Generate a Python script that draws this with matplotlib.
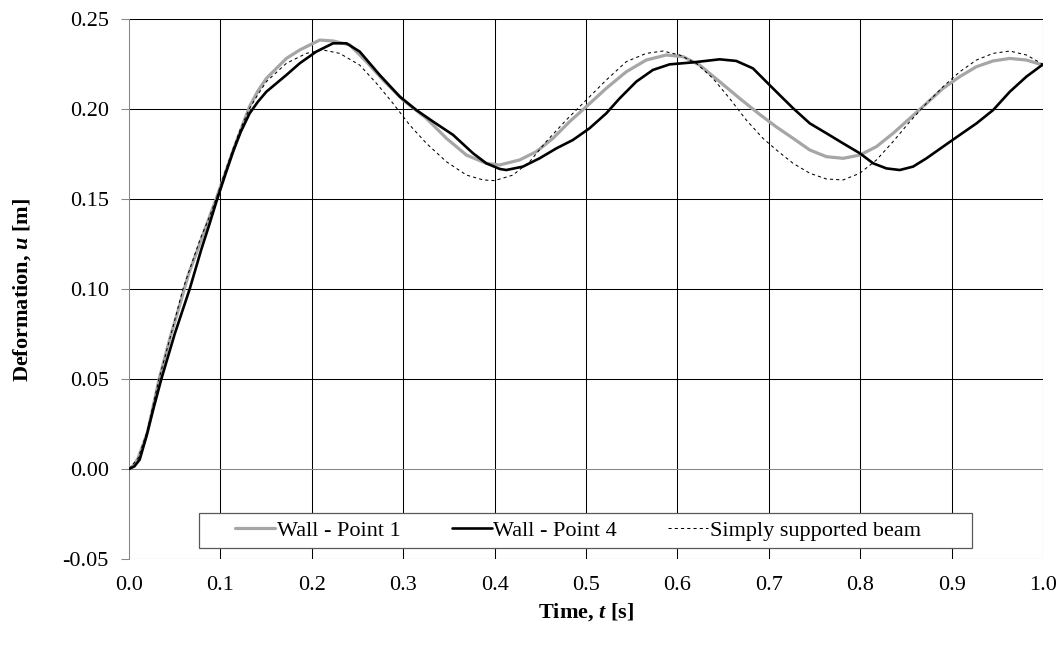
import matplotlib
matplotlib.use("Agg")
import matplotlib.pyplot as plt
from matplotlib.patches import Rectangle

plt.rcParams.update({
    'font.family': 'Liberation Serif',
    'font.size': 16,
    'mathtext.fontset': 'custom',
    'mathtext.rm': 'Liberation Serif',
    'mathtext.it': 'Liberation Serif:italic',
    'mathtext.bf': 'Liberation Serif:bold',
    'mathtext.bfit': 'Liberation Serif:italic:bold',
    'lines.solid_joinstyle': 'round',
    'lines.solid_capstyle': 'round',
})

# Wall - Point 1
t_p1 = [0, 0.005, 0.01, 0.02, 0.033, 0.045, 0.054, 0.065, 0.078, 0.088, 0.096, 0.105,
        0.1139, 0.122, 0.132, 0.141, 0.1503, 0.1722, 0.1868, 0.2087, 0.2233, 0.2415, 0.2597,
        0.278, 0.2999, 0.3254, 0.3473, 0.3692, 0.391, 0.4055, 0.4274, 0.4456, 0.4638, 0.4821,
        0.5003, 0.5222, 0.5441, 0.5659, 0.5878, 0.6061, 0.6243, 0.6462, 0.6681, 0.69, 0.7084,
        0.7266, 0.7449, 0.7631, 0.7813, 0.7996, 0.8178, 0.836, 0.8543, 0.8725, 0.8907, 0.909,
        0.9272, 0.9454, 0.9637, 0.9819, 1.0]
u_p1 = [0, 0.002, 0.006, 0.02, 0.05, 0.073, 0.0885, 0.108, 0.126, 0.14, 0.151, 0.164,
        0.177, 0.188, 0.2015, 0.21, 0.217, 0.2281, 0.2328, 0.2383, 0.2378, 0.2356, 0.2263,
        0.2161, 0.205, 0.1948, 0.1837, 0.1744, 0.1698, 0.1689, 0.1717, 0.1763, 0.1837, 0.193,
        0.2013, 0.2115, 0.2207, 0.2272, 0.23, 0.2291, 0.2244, 0.2152, 0.2059, 0.197, 0.190,
        0.1837, 0.1772, 0.1735, 0.1726, 0.1744, 0.1791, 0.1865, 0.1948, 0.2031, 0.2115, 0.218,
        0.2235, 0.2267, 0.2281, 0.2272, 0.2244]

# Wall - Point 4
t_p4 = [0, 0.006, 0.0117, 0.019, 0.027, 0.0354, 0.05, 0.0664, 0.079, 0.088, 0.0956, 0.105,
        0.1139, 0.122, 0.132, 0.141, 0.1503, 0.1722, 0.1868, 0.205, 0.2233, 0.2379, 0.2524,
        0.2743, 0.2962, 0.3144, 0.3327, 0.3546, 0.3764, 0.391, 0.4056, 0.4128, 0.431, 0.4492,
        0.4675, 0.4857, 0.5039, 0.5222, 0.5368, 0.555, 0.5732, 0.5915, 0.617, 0.6462, 0.6644,
        0.6826, 0.7009, 0.7118, 0.7266, 0.7449, 0.7631, 0.7813, 0.7996, 0.8142, 0.8287, 0.8433,
        0.8579, 0.8725, 0.8907, 0.909, 0.9272, 0.9454, 0.9637, 0.9819, 1.0]
u_p4 = [0, 0.0015, 0.0052, 0.018, 0.034, 0.05, 0.075, 0.10, 0.1218, 0.136, 0.1485, 0.163,
        0.1763, 0.187, 0.1976, 0.204, 0.2096, 0.2189, 0.2254, 0.2319, 0.2365, 0.2365, 0.2319,
        0.2189, 0.2069, 0.1994, 0.193, 0.1856, 0.1754, 0.1698, 0.1667, 0.1661, 0.168, 0.1726,
        0.1781, 0.1828, 0.1893, 0.1976, 0.2059, 0.2152, 0.2217, 0.2248, 0.2259, 0.2276, 0.2267,
        0.2226, 0.2133, 0.2078, 0.2004, 0.192, 0.1865, 0.1809, 0.1754, 0.1698, 0.167, 0.1661,
        0.168, 0.1726, 0.1791, 0.1856, 0.192, 0.1994, 0.2096, 0.218, 0.2248]

# Simply supported beam
t_ss = [0, 0.01, 0.02, 0.0328, 0.045, 0.059, 0.078, 0.088, 0.096, 0.105, 0.1139, 0.122,
        0.132, 0.141, 0.1503, 0.1722, 0.1941, 0.2123, 0.2306, 0.2524, 0.2707, 0.2889, 0.3071,
        0.3254, 0.3473, 0.3692, 0.3874, 0.4, 0.4201, 0.4383, 0.4565, 0.4784, 0.5003, 0.5222,
        0.5441, 0.5659, 0.5842, 0.6024, 0.6207, 0.6389, 0.6571, 0.6753, 0.6936, 0.7084, 0.7266,
        0.7449, 0.7631, 0.7813, 0.7996, 0.8178, 0.836, 0.8543, 0.8725, 0.8907, 0.909, 0.9272,
        0.9454, 0.9637, 0.9819, 1.0]
u_ss = [0, 0.006, 0.021, 0.05, 0.073, 0.10, 0.128, 0.14, 0.151, 0.165, 0.178, 0.189,
        0.2004, 0.208, 0.2152, 0.2254, 0.2309, 0.2328, 0.2309, 0.2244, 0.2143, 0.2031, 0.1911,
        0.1809, 0.1707, 0.1633, 0.1606, 0.1602, 0.1633, 0.1707, 0.1819, 0.1939, 0.205, 0.2161,
        0.2263, 0.2309, 0.2322, 0.23, 0.2254, 0.217, 0.2059, 0.1939, 0.1837, 0.1772, 0.1698,
        0.1643, 0.1611, 0.1606, 0.1643, 0.1717, 0.1819, 0.193, 0.2031, 0.2124, 0.2207, 0.2272,
        0.2309, 0.2322, 0.23, 0.2248]

x_ticks = [0.0, 0.1, 0.2, 0.3, 0.4, 0.5, 0.6, 0.7, 0.8, 0.9, 1.0]
y_ticks = [-0.05, 0.0, 0.05, 0.10, 0.15, 0.20, 0.25]

fig = plt.figure(figsize=(10.62, 6.56), dpi=100)
ax = fig.add_axes([129 / 1062, 97 / 656, 914 / 1062, 540 / 656])

ax.set_xlim(0, 1.0)
ax.set_ylim(-0.05, 0.25)
ax.set_xticks(x_ticks)
ax.set_yticks(y_ticks)
ax.set_xticklabels([f'{v:.1f}' for v in x_ticks])
ax.set_yticklabels([f'{v:.2f}' for v in y_ticks])

# gridlines (Excel style), zero line and left axis in grey
for v in x_ticks[1:]:
    ax.axvline(v, color='black', lw=0.75, zorder=1)
for v in y_ticks:
    if v != 0.0:
        ax.axhline(v, color='black', lw=0.75, zorder=1)
ax.axhline(0.0, color='#868686', lw=0.75, zorder=1)

for s in ['top', 'right', 'bottom']:
    ax.spines[s].set_visible(False)
ax.spines['left'].set_color('#868686')
ax.spines['left'].set_linewidth(0.75)

ax.tick_params(axis='y', length=5.5, width=0.75, color='#868686', pad=9)
ax.tick_params(axis='x', length=0, pad=12)

ax.plot(t_p1, u_p1, color='#A6A6A6', lw=2.3, label='Wall - Point 1', zorder=3)
ax.plot(t_p4, u_p4, color='black', lw=1.9, label='Wall - Point 4', zorder=4)
ax.plot(t_ss, u_ss, color='black', lw=0.75, linestyle=(0, (3, 3)),
        label='Simply supported beam', zorder=5)

fig.text(586 / 1062, 1 - 612 / 656, r'Time, $\mathbfit{t}$ [s]', fontweight='bold',
         ha='center', va='center')
fig.text(22 / 1062, 1 - 290 / 656, r'Deformation, $\mathbfit{u}$ [m]', fontweight='bold',
         rotation=90, ha='center', va='center')

# legend frame drawn separately, entries placed inside it
ax.add_patch(Rectangle((70 / 914, 11 / 540), 773 / 914, 35 / 540, transform=ax.transAxes,
                       facecolor='white', edgecolor='#595959', lw=0.9, zorder=6))
leg = ax.legend(loc='center left', ncol=3, frameon=False,
                bbox_to_anchor=(106 / 914, 28.5 / 540),
                borderpad=0, borderaxespad=0,
                handlelength=1.8, handletextpad=0.08, columnspacing=2.3)
leg.set_zorder(7)

fig.savefig('out.png', dpi=100)
